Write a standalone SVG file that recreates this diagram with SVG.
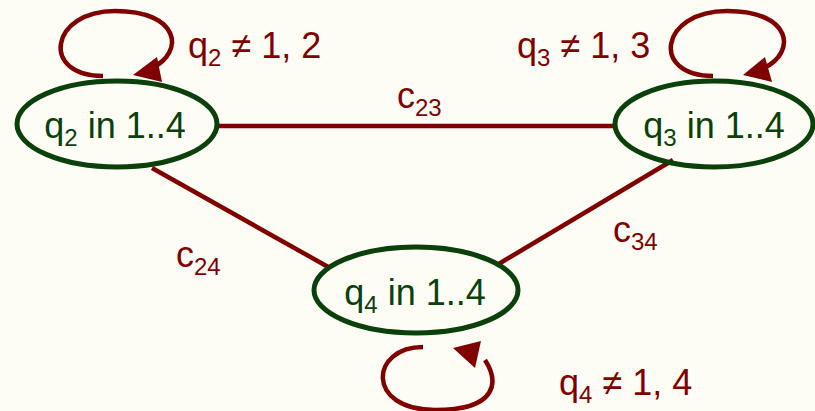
<svg xmlns="http://www.w3.org/2000/svg" width="815" height="411" viewBox="0 0 815 411">
<defs>
<style>
.node{fill:none;stroke:#0a400a;stroke-width:5}
.ntxt{font-family:"Liberation Sans",Arial,sans-serif;font-size:36px;fill:#0a400a;text-anchor:middle}
.edge{stroke:#800000;stroke-width:4.5;fill:none}
.lbl{font-family:"Liberation Sans",Arial,sans-serif;font-size:36px;fill:#800000}
.sub{font-size:24px}
.ah{fill:#800000}
</style>
</defs>
<rect width="815" height="411" fill="#fdfdf6"/>
<g id="connectors">
<line class="edge" x1="217" y1="126" x2="615" y2="126"/>
<line class="edge" x1="152" y1="168" x2="330" y2="268"/>
<line class="edge" x1="673" y1="160" x2="497" y2="265"/>
<path class="edge" d="M103,76 C40,76 50,11 115,11 C180,11 185,52 152,68"/>
<polygon class="ah" points="133,75 157,57 162,82"/>
<path class="edge" d="M713,76 C650,76 660,11 727,11 C792,11 797,52 764,68"/>
<polygon class="ah" points="743,75 765,57 772,82"/>
<path class="edge" d="M423,347 C370,347 365,410 435,410 C500,410 498,380 485,360"/>
<polygon class="ah" points="453,348 481,341 475,368"/>
<text class="lbl" x="397" y="108">c<tspan class="sub" dy="8">23</tspan></text>
<text class="lbl" x="176" y="267">c<tspan class="sub" dy="8">24</tspan></text>
<text class="lbl" x="613" y="242">c<tspan class="sub" dy="8">34</tspan></text>
<text class="lbl" x="188" y="58">q<tspan class="sub" dy="8">2</tspan><tspan dy="-8"> ≠ 1, 2</tspan></text>
<text class="lbl" x="517" y="58">q<tspan class="sub" dy="8">3</tspan><tspan dy="-8"> ≠ 1, 3</tspan></text>
<text class="lbl" x="559" y="395">q<tspan class="sub" dy="8">4</tspan><tspan dy="-8"> ≠ 1, 4</tspan></text>
</g>
<g id="node-q2">
<ellipse class="node" cx="117" cy="124" rx="100" ry="43"/>
<text class="ntxt" x="115" y="138">q<tspan class="sub" dy="8">2</tspan><tspan dy="-8"> in 1..4</tspan></text>
</g>
<g id="node-q3">
<ellipse class="node" cx="714" cy="124" rx="99" ry="43"/>
<text class="ntxt" x="714" y="138">q<tspan class="sub" dy="8">3</tspan><tspan dy="-8"> in 1..4</tspan></text>
</g>
<g id="node-q4">
<ellipse class="node" cx="416" cy="290" rx="102" ry="43"/>
<text class="ntxt" x="415" y="305">q<tspan class="sub" dy="8">4</tspan><tspan dy="-8"> in 1..4</tspan></text>
</g>
</svg>
